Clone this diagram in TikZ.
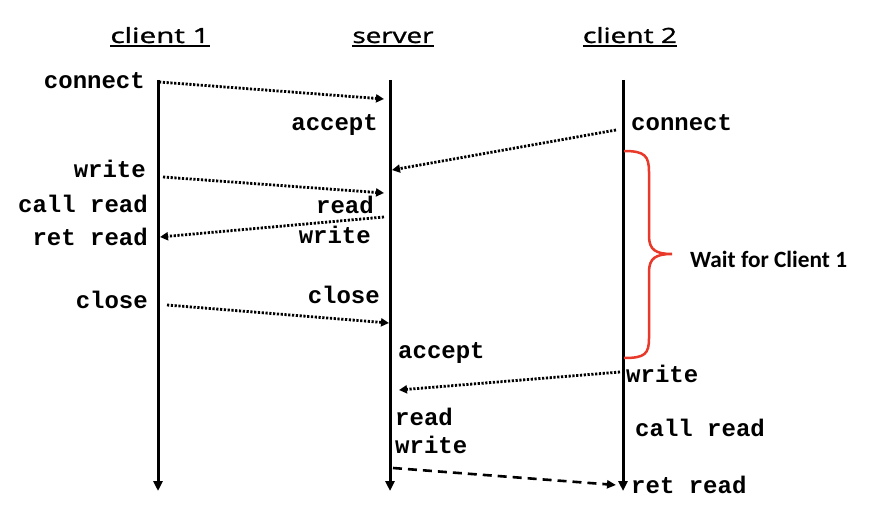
\documentclass[tikz,border=0pt]{standalone}
\usepackage{fontspec}
\setmonofont{Liberation Mono}
\newfontfamily\titlefont[FakeBold=1.2]{Open Sans}
\newfontfamily\waitfont{Carlito}
\usetikzlibrary{arrows.meta}
\definecolor{bracered}{HTML}{E8392B}
\begin{document}
\begin{tikzpicture}[x=1pt,y=-1pt,
  lifeline/.style={line width=3pt,-{Triangle[length=10pt,width=9pt]}},
  msg/.style={line width=2.8pt,dash pattern=on 2.2pt off 1.6pt,-{Triangle[length=8pt,width=8pt]}},
  reply/.style={line width=2.6pt,dash pattern=on 9pt off 6pt,-{Triangle[length=9pt,width=8pt]}},
  lbl/.style={font=\ttfamily\bfseries\fontsize{24}{24}\selectfont,inner sep=0pt},
  ttl/.style={font=\titlefont\fontsize{21}{21}\selectfont,inner sep=0pt,anchor=base},
  uline/.style={line width=2pt},
  bracestyle/.style={draw=bracered,line width=2.5pt},
  waitlbl/.style={font=\waitfont\bfseries\fontsize{23.3}{23.3}\selectfont,inner sep=0pt,anchor=base west}
]
\useasboundingbox[fill=white] (0,0) rectangle (872,508);

% titles
\node[ttl] (t1) at (160,43) {\resizebox{99pt}{\height}{client 1}};
\node[ttl] (t2) at (393,43) {\resizebox{81pt}{\height}{server}};
\node[ttl] (t3) at (630,43) {\resizebox{94pt}{\height}{client 2}};
\foreach \t in {t1,t2,t3}
  \draw[uline] ([yshift=-3pt]\t.south west) -- ([yshift=-3pt]\t.south east);

% lifelines
\coordinate (c1top) at (158,80);  \coordinate (c1bot) at (158,491);
\coordinate (svtop) at (390,80);  \coordinate (svbot) at (390,491);
\coordinate (c2top) at (623,80);  \coordinate (c2bot) at (623,491);
\draw[lifeline] (c1top) -- (c1bot);
\draw[lifeline] (svtop) -- (svbot);
\draw[lifeline] (c2top) -- (c2bot);

% labels
\node[lbl,anchor=base east] (conn1) at (145,89) {connect};
\node[lbl,anchor=base east] (acc1) at (378,131) {accept};
\node[lbl,anchor=base west] (conn2) at (631,131) {connect};
\node[lbl,anchor=base east] (wr1) at (146,177) {write};
\node[lbl,anchor=base east] (cr1) at (148,212) {call read};
\node[lbl,anchor=base east] (rd1) at (374,213) {read};
\node[lbl,anchor=base east] (rr1) at (148,245) {ret read};
\node[lbl,anchor=base east] (wrs) at (371,243) {write};
\node[lbl,anchor=base east] (cl1) at (148,308) {close};
\node[lbl,anchor=base east] (cls) at (380,303) {close};
\node[lbl,anchor=base west] (acc2) at (398,358) {accept};
\node[lbl,anchor=base west] (wr2) at (626,382) {write};
\node[lbl,anchor=base west] (rd2) at (395,425) {read};
\node[lbl,anchor=base west] (wrs2) at (395,453) {write};
\node[lbl,anchor=base west] (cr2) at (635,436) {call read};
\node[lbl,anchor=base west] (rr2) at (631,493) {ret read};
\node[waitlbl] (wait) at (690,267) {Wait for Client 1};

% message endpoints
\coordinate (m1s) at (159,82);  \coordinate (m1e) at (384,99);
\coordinate (m2s) at (616,130); \coordinate (m2e) at (392,170);
\coordinate (m3s) at (163,177); \coordinate (m3e) at (384,193);
\coordinate (m4s) at (384,217); \coordinate (m4e) at (160,237);
\coordinate (m5s) at (167,305); \coordinate (m5e) at (389,323);
\coordinate (m6s) at (620,372); \coordinate (m6e) at (399,390);
\coordinate (m7s) at (393,468); \coordinate (m7e) at (616,485);

\draw[msg] (m1s) -- (m1e);
\draw[msg] (m2s) -- (m2e);
\draw[msg] (m3s) -- (m3e);
\draw[msg] (m4s) -- (m4e);
\draw[msg] (m5s) -- (m5e);
\draw[msg] (m6s) -- (m6e);
\draw[reply] (m7s) -- (m7e);

% brace
\draw[bracestyle] (624,151) .. controls (645,151) and (649,156) .. (649,172)
  -- (649,236) .. controls (649,250) and (656,254) .. (672,254)
  .. controls (656,254) and (649,258) .. (649,272)
  -- (649,338) .. controls (649,354) and (645,358) .. (624,358);
\end{tikzpicture}
\end{document}
